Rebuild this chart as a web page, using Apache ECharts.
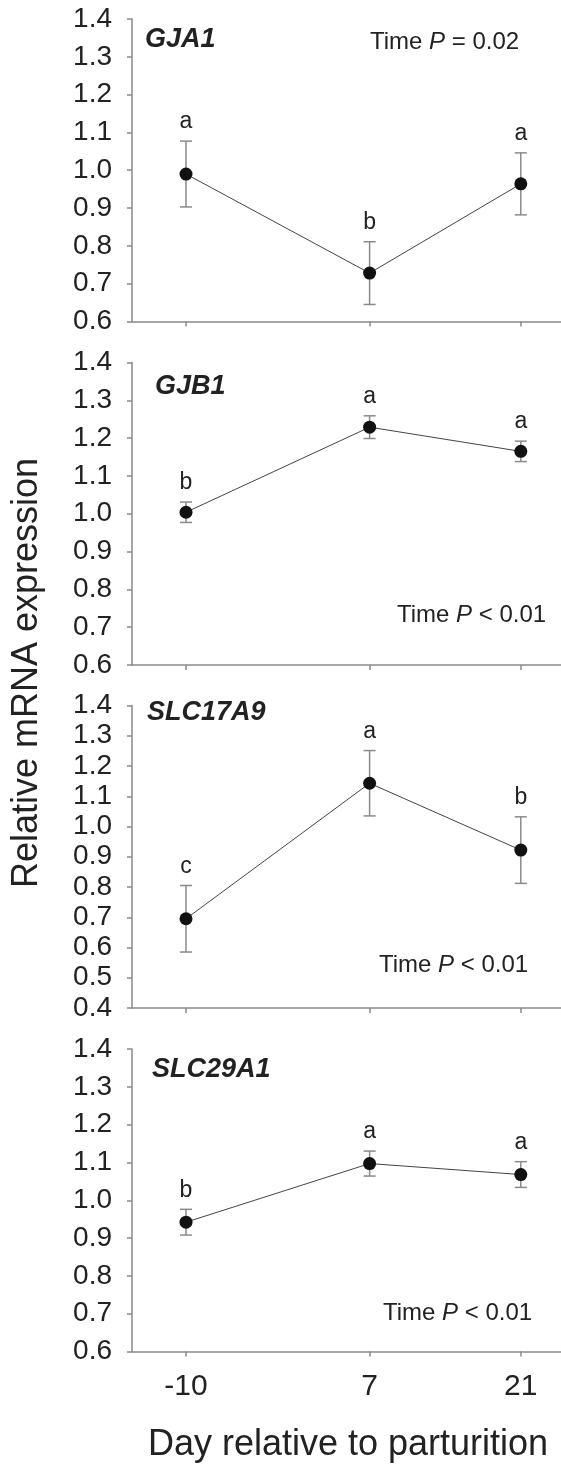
<!DOCTYPE html>
<html>
<head>
<meta charset="utf-8">
<script src="https://cdn.jsdelivr.net/npm/echarts@6/dist/echarts.min.js"></script>
<style>
html,body{margin:0;padding:0;background:#fff;}
#chart{width:561px;height:1469px;}
</style>
</head>
<body>
<div id="chart"></div>
<script>
// ---- data ----
const days = [-10, 7, 21];
const genes = ['GJA1', 'GJB1', 'SLC17A9', 'SLC29A1'];

const gja1Mean = [0.990, 0.728, 0.964];
const gja1Err  = [0.087, 0.083, 0.082];
const gja1Letters = ['a', 'b', 'a'];

const gjb1Mean = [1.004, 1.229, 1.165];
const gjb1Err  = [0.027, 0.030, 0.027];
const gjb1Letters = ['b', 'a', 'a'];

const slc17a9Mean = [0.695, 1.143, 0.922];
const slc17a9Err  = [0.110, 0.108, 0.110];
const slc17a9Letters = ['c', 'a', 'b'];

const slc29a1Mean = [0.942, 1.097, 1.068];
const slc29a1Err  = [0.034, 0.033, 0.034];
const slc29a1Letters = ['b', 'a', 'a'];

const pOps = ['=', '<', '<', '<'];
const pVals = ['0.02', '0.01', '0.01', '0.01'];
const yMins = [0.6, 0.6, 0.4, 0.6];
const yMax = 1.4;

const means = [gja1Mean, gjb1Mean, slc17a9Mean, slc29a1Mean];
const errs = [gja1Err, gjb1Err, slc17a9Err, slc29a1Err];
const letters = [gja1Letters, gjb1Letters, slc17a9Letters, slc29a1Letters];

// ---- layout / style ----
const FONT = "'Liberation Sans', Arial, Helvetica, sans-serif";
const gridTops = [19, 362.5, 705.5, 1049];
const gridH = 302.5;
const gridLeft = 132;
const gridW = 432;
const axisColor = '#8a8a8a';
const textColor = '#222';
const titlePos = [[145, 40], [155, 387], [147, 713], [152, 1070]];
const pPos = [[370, 42], [397, 615], [379, 965], [383, 1313]];

const chart = echarts.init(document.getElementById('chart'), null, {renderer: 'canvas'});

const grids = [], xAxes = [], yAxes = [], series = [], graphics = [];

for (let i = 0; i < 4; i++) {
  grids.push({left: gridLeft, top: gridTops[i], width: gridW, height: gridH, containLabel: false, outerBoundsMode: 'none'});
  const last = i === 3;
  xAxes.push({
    type: 'value', gridIndex: i, min: -15, max: 25,
    axisLine: {show: true, onZero: false, lineStyle: {color: axisColor, width: 1.5}},
    axisTick: {show: true, customValues: days, length: 5, inside: false, lineStyle: {color: axisColor, width: 1.5}},
    axisLabel: {show: last, customValues: days, fontSize: 30, color: textColor, fontFamily: FONT, margin: 20},
    splitLine: {show: false},
    name: last ? 'Day relative to parturition' : '',
    nameLocation: 'middle', nameGap: 76,
    nameTextStyle: {fontSize: 36, color: textColor, fontFamily: FONT}
  });
  yAxes.push({
    type: 'value', gridIndex: i, min: yMins[i], max: yMax, interval: 0.1,
    axisLine: {show: true, onZero: false, lineStyle: {color: axisColor, width: 1.5}},
    axisTick: {show: true, length: 5, inside: false, lineStyle: {color: axisColor, width: 1.5}},
    axisLabel: {fontSize: 28, color: textColor, fontFamily: FONT, margin: 20, formatter: v => v.toFixed(1)},
    splitLine: {show: false}
  });

  const errData = days.map((d, k) => [d, means[i][k], errs[i][k]]);
  const lets = letters[i];
  series.push({
    type: 'custom', xAxisIndex: i, yAxisIndex: i, z: 1,
    data: errData,
    renderItem: function (params, api) {
      const x = api.value(0), m = api.value(1), e = api.value(2);
      const top = api.coord([x, m + e]);
      const bot = api.coord([x, m - e]);
      const hw = 6;
      const st = {stroke: '#8a8a8a', lineWidth: 1.5};
      return {
        type: 'group',
        children: [
          {type: 'line', shape: {x1: top[0], y1: top[1], x2: bot[0], y2: bot[1]}, style: st},
          {type: 'line', shape: {x1: top[0] - hw, y1: top[1], x2: top[0] + hw, y2: top[1]}, style: st},
          {type: 'line', shape: {x1: bot[0] - hw, y1: bot[1], x2: bot[0] + hw, y2: bot[1]}, style: st},
          {type: 'text', x: top[0], y: top[1] - 19, style: {
            text: lets[params.dataIndex], fontSize: 23, fontFamily: FONT, fill: textColor,
            align: 'center', verticalAlign: 'middle'}}
        ]
      };
    }
  });
  series.push({
    type: 'line', xAxisIndex: i, yAxisIndex: i, z: 3,
    data: days.map((d, k) => [d, means[i][k]]),
    symbol: 'circle', symbolSize: 13,
    itemStyle: {color: '#111'},
    lineStyle: {color: '#444', width: 1},
    animation: false
  });

  graphics.push({
    type: 'text', x: titlePos[i][0], y: titlePos[i][1],
    style: {text: genes[i], fontSize: 27, fontWeight: 'bold', fontStyle: 'italic', fontFamily: FONT,
            fill: textColor, align: 'left', verticalAlign: 'middle'}
  });
  graphics.push({
    type: 'text', x: pPos[i][0], y: pPos[i][1],
    style: {text: 'Time {i|P} ' + pOps[i] + ' ' + pVals[i], fontSize: 24, fontFamily: FONT, fill: textColor,
            align: 'left', verticalAlign: 'middle',
            rich: {i: {fontStyle: 'italic', fontSize: 24, fontFamily: FONT, fill: textColor}}}
  });
}

graphics.push({
  type: 'text', x: 27, y: 673, rotation: Math.PI / 2,
  style: {text: 'Relative mRNA expression', fontSize: 36, fontFamily: FONT, fill: textColor,
          align: 'center', verticalAlign: 'middle'}
});

chart.setOption({
  backgroundColor: '#fff',
  animation: false,
  grid: grids,
  xAxis: xAxes,
  yAxis: yAxes,
  series: series,
  graphic: graphics
});
</script>
</body>
</html>
